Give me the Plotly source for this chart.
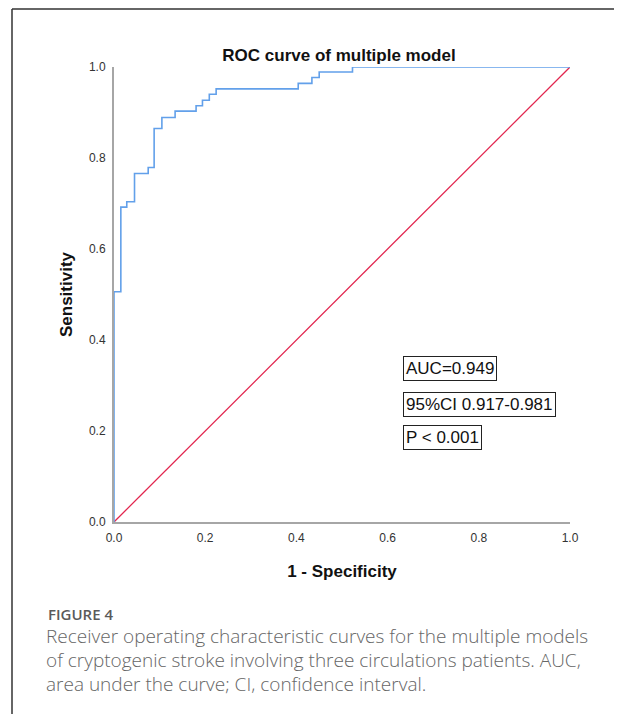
import plotly.graph_objects as go

# ROC curve corner points (1 - specificity, sensitivity)
fpr = [0.0, 0.0, 0.015, 0.028, 0.045, 0.075, 0.088, 0.105, 0.134, 0.180, 0.194,
       0.209, 0.224, 0.404, 0.434, 0.450, 0.523, 1.0]
tpr = [0.0, 0.506, 0.692, 0.704, 0.766, 0.779, 0.865, 0.889, 0.903, 0.915, 0.927,
       0.940, 0.952, 0.964, 0.977, 0.989, 1.0, 1.0]

ref_x = [0.0, 1.0]
ref_y = [0.0, 1.0]

tick_vals = [0.0, 0.2, 0.4, 0.6, 0.8, 1.0]
tick_text = ["0.0", "0.2", "0.4", "0.6", "0.8", "1.0"]

stats_text = ["AUC=0.949", "95%CI 0.917-0.981", "P < 0.001"]
stats_y = [0.338, 0.259, 0.185]

caption_head = "FIGURE 4"
caption_lines = [
    "Receiver operating characteristic curves for the multiple models",
    "of cryptogenic stroke involving three circulations patients. AUC,",
    "area under the curve; CI, confidence interval.",
]

# the page body adds an 8px offset; work in page pixels and subtract it
OFF = 8
W, H = 622 - OFF, 714 - OFF
L, R, T, B = 114 - OFF, 52, 67 - OFF, 192
PW, PH = W - L - R, H - T - B


def px_x(px):
    return (px - OFF - L) / PW


def px_y(py):
    return (H - B - (py - OFF)) / PH


fig = go.Figure()
fig.add_trace(go.Scatter(x=ref_x, y=ref_y, mode="lines",
                         line=dict(color="#e2264f", width=1.3),
                         cliponaxis=False, showlegend=False, hoverinfo="skip"))
fig.add_trace(go.Scatter(x=fpr, y=tpr, mode="lines", line_shape="hv",
                         line=dict(color="#62a0ea", width=1.6),
                         cliponaxis=False, showlegend=False))

axis_font = dict(family="Liberation Sans, Arial, sans-serif", size=12, color="#333333")
title_font = dict(family="Liberation Sans, Arial, sans-serif", size=17, color="#111111",
                  weight="bold")

fig.update_layout(
    width=W, height=H,
    margin=dict(l=L, r=R, t=T, b=B, autoexpand=False),
    paper_bgcolor="white", plot_bgcolor="white",
    title=dict(text="ROC curve of multiple model", x=px_x(339), xref="paper",
               xanchor="center", y=1 - (55 - OFF) / H, yref="container",
               yanchor="middle", font=title_font),
    xaxis=dict(range=[0, 1], tickvals=tick_vals, ticktext=tick_text,
               showgrid=False, zeroline=False, showline=True,
               linecolor="#a6a6a6", linewidth=2,
               ticks="outside", ticklen=4, tickcolor="rgba(0,0,0,0)",
               tickfont=axis_font, automargin=False,
               title=dict(text="1 - Specificity", font=title_font, standoff=21)),
    yaxis=dict(range=[0, 1], tickvals=tick_vals, ticktext=tick_text,
               showgrid=False, zeroline=False, showline=True,
               linecolor="#a6a6a6", linewidth=2,
               ticks="outside", ticklen=4, tickcolor="rgba(0,0,0,0)",
               tickfont=axis_font, automargin=False,
               title=dict(text="Sensitivity", font=title_font, standoff=12)),
)

for txt, yv in zip(stats_text, stats_y):
    fig.add_annotation(text=txt, x=px_x(402.5), y=yv, xref="paper", yref="paper",
                       xanchor="left", yanchor="middle", showarrow=False,
                       font=dict(family="Liberation Sans, Arial, sans-serif", size=17,
                                 color="#111111"),
                       bordercolor="#222222", borderwidth=1, borderpad=2,
                       bgcolor="white")

cap_font = dict(family="Open Sans, Noto Sans, sans-serif", size=19, color="#666666",
                weight=300)
fig.add_annotation(text=caption_head, x=px_x(46), y=px_y(614), xref="paper",
                   yref="paper", xanchor="left", yanchor="middle", showarrow=False,
                   font=dict(family="Open Sans, Noto Sans, sans-serif", size=15,
                             color="#5a5a5a", weight=600))
for i, line in enumerate(caption_lines):
    fig.add_annotation(text=line, x=px_x(44), y=px_y(636 + 24 * i), xref="paper",
                       yref="paper", xanchor="left", yanchor="middle",
                       showarrow=False, font=cap_font)

# figure frame (left and top rules)
frame = dict(color="#333333", width=1.5)
fig.add_shape(type="line", xref="paper", yref="paper",
              x0=px_x(12), x1=px_x(630), y0=px_y(9), y1=px_y(9), line=frame)
fig.add_shape(type="line", xref="paper", yref="paper",
              x0=px_x(12), x1=px_x(12), y0=px_y(9), y1=px_y(722), line=frame)

fig.write_html("out.html")
